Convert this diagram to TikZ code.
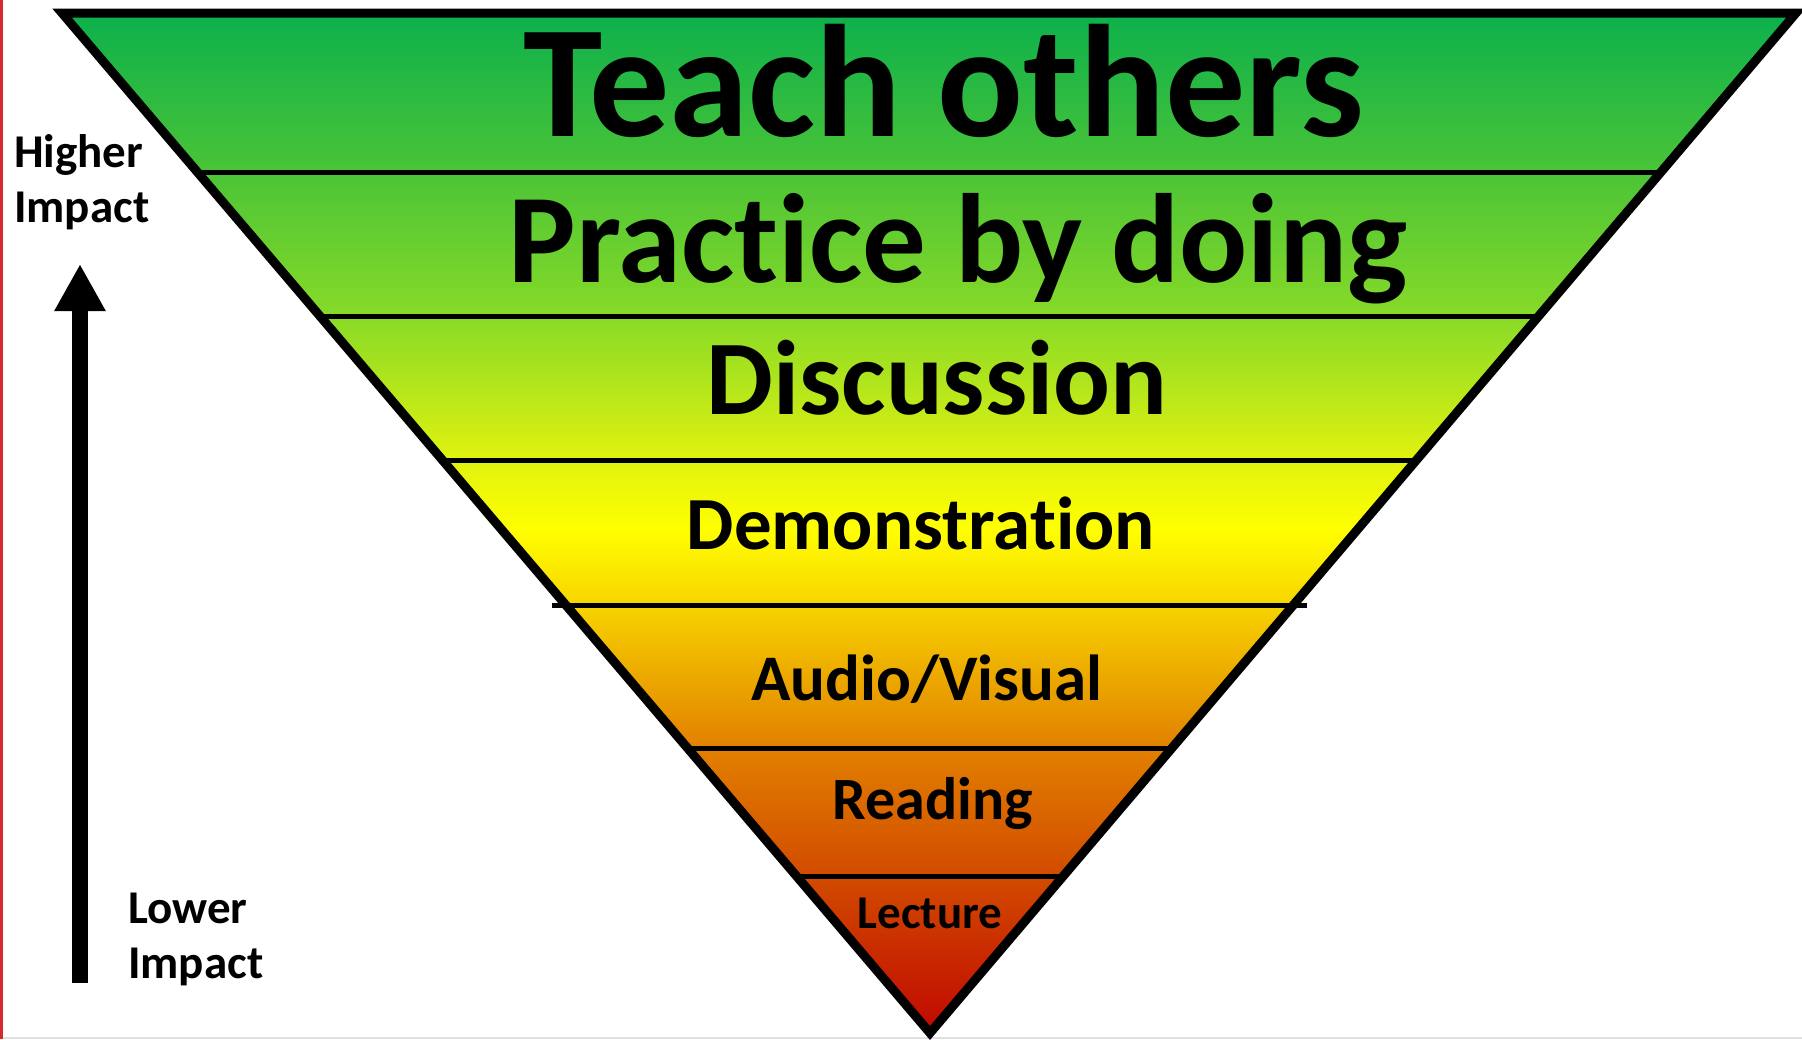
\documentclass[tikz,border=0pt]{standalone}
\usepackage{fontspec}
\setmainfont{Carlito}[Ligatures=NoCommon]
\usetikzlibrary{calc,arrows.meta}

% colours of the funnel, from the tip (red) up to the wide top (green)
\definecolor{fTip}{RGB}{192,8,0}
\definecolor{fLecture}{RGB}{210,75,0}
\definecolor{fReading}{RGB}{226,128,0}
\definecolor{fAudio}{RGB}{236,170,0}
\definecolor{fAudioTop}{RGB}{247,212,0}
\definecolor{fYellow}{RGB}{255,255,0}
\definecolor{fDemoTop}{RGB}{225,242,15}
\definecolor{fDiscTop}{RGB}{135,218,40}
\definecolor{fPractTop}{RGB}{75,196,55}
\definecolor{fTop}{RGB}{12,176,76}
\definecolor{edgeRed}{RGB}{215,40,45}

% one continuous gradient over the whole funnel (path fitted to 25bp..75bp)
\pgfdeclareverticalshading{funnel}{100bp}{%
  color(0bp)=(fTip); color(25bp)=(fTip);
  color(32.7bp)=(fLecture); color(39bp)=(fReading);
  color(42.6bp)=(fAudio); color(46bp)=(fAudioTop);
  color(49.7bp)=(fYellow); color(53.1bp)=(fDemoTop);
  color(60.2bp)=(fDiscTop); color(67.2bp)=(fPractTop);
  color(75bp)=(fTop); color(100bp)=(fTop)}

\tikzset{
  level/.style={font=\bfseries\fontsize{#1}{#1}\selectfont, anchor=base, inner sep=0pt},
  impact/.style={font=\bfseries\fontsize{47}{55}\selectfont, align=left, inner sep=0pt, anchor=base west},
  divider/.style={line width=5pt, black},
  outline/.style={line width=9pt, black, line join=miter},
}

\begin{document}
\begin{tikzpicture}[x=1pt,y=-1pt]
  \useasboundingbox (0,0) rectangle (1802,1039);
  \fill[white] (0,0) rectangle (1802,1039);

  % page edges
  \draw[edgeRed, line width=3pt] (1.5,0) -- (1.5,1039);
  \draw[black!12, line width=2pt] (3,1038) -- (1802,1038);

  % funnel corners
  \coordinate (TL) at (62,13);
  \coordinate (TR) at (1796,13);
  \coordinate (B) at (930,1033);

  \shade[shading=funnel] (TL) -- (TR) -- (B) -- cycle;

  % band dividers
  \foreach \t in {0.1559,0.2971,0.4392,0.7206,0.8461}{
    \draw[divider] ($(TL)!\t!(B)$) -- ($(TR)!\t!(B)$);
  }
  \draw[divider] ($(TL)!0.5804!(B)+(-14,0)$) -- ($(TR)!0.5804!(B)+(14,0)$);

  \draw[outline] (TL) -- (TR) -- (B) -- cycle;

  % band labels
  \node[level=160] (teach)   at (944,136) {Teach others};
  \node[level=127] (practice) at (958,282) {Practice by doing};
  \node[level=106] (disc)    at (937,414) {Discussion};
  \node[level=75]  (demo)    at (921,549) {Demonstration};
  \node[level=65]  (av)      at (927,700) {Audio/Visual};
  \node[level=60]  (reading) at (933,819) {Reading};
  \node[level=47]  (lecture) at (930,928) {Lecture};

  % impact scale
  \coordinate (lowEnd) at (80,983);
  \coordinate (highEnd) at (80,264);
  \draw[line width=16pt, -{Triangle[length=47pt,width=48pt]}] (lowEnd) -- (highEnd);
  \node[impact] (higher) at (14,222) {Higher\\Impact};
  \node[impact] (lower) at (128,978) {Lower\\Impact};
\end{tikzpicture}
\end{document}
